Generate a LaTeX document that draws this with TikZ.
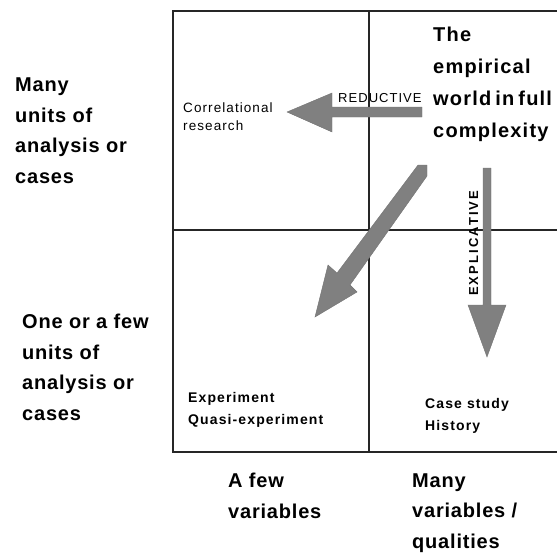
\documentclass[tikz,border=0pt]{standalone}
\usepackage{fontspec}
\setmainfont{Liberation Sans}
\newfontfamily\bigfont[LetterSpace=6,WordSpace=0.6]{Liberation Sans}
\newfontfamily\sidefont[LetterSpace=4]{Liberation Sans}
\newfontfamily\smallfont[LetterSpace=8]{Liberation Sans}
\newfontfamily\verfont[LetterSpace=16]{Liberation Sans}
\usetikzlibrary{arrows.meta}
\tikzset{
  frame/.style={draw=black!85, line width=1.4pt},
  sidelbl/.style={anchor=base west, inner sep=0pt, align=left, font=\sidefont\bfseries\fontsize{20}{30.5}\selectfont},
  worldlbl/.style={anchor=base west, inner sep=0pt, align=left, font=\bigfont\bfseries\fontsize{20}{32}\selectfont},
  celllbl/.style={anchor=base west, inner sep=0pt, align=left, font=\smallfont\fontsize{13.5}{18}\selectfont},
  cellbold/.style={anchor=base west, inner sep=0pt, align=left, font=\smallfont\bfseries\fontsize{14}{21.5}\selectfont},
  blockarrow/.style={draw=black!55, fill=black!50}
}
\begin{document}
\begin{tikzpicture}[x=1pt,y=-1pt]
\useasboundingbox (0,0) rectangle (557,554);
% frame
\draw[frame] (557,11) -- (173,11) -- (173,452) -- (557,452);
\draw[frame] (369,11) -- (369,452);
\draw[frame] (173,230) -- (557,230);
% side labels (anchored at the baseline of the last line)
\node[sidelbl] (many) at (15,183) {Many\\units of\\analysis or\\cases};
\node[sidelbl] (few) at (22,420) {One or a few\\units of\\analysis or\\cases};
\node[sidelbl] (afew) at (228,518) {A few\\variables};
\node[sidelbl] (manyvar) at (412,548) {Many\\variables /\\qualities};
% world
\node[worldlbl] (world) at (433,137) {The\\empirical\\world in full\\complexity};
% cells
\node[celllbl] (corr) at (183,130) {Correlational\\research};
\node[cellbold] (exp) at (188,424) {Experiment\\Quasi-experiment};
\node[cellbold] (case) at (425,430) {Case study\\History};
% arrows
\coordinate (rt) at (287,112);
\coordinate (vs) at (487,168);
\coordinate (vt) at (487,357);
\coordinate (dt) at (315,317);
\path[blockarrow] (422,107) -- (332,107) -- (332,93) -- (rt) -- (332,132) -- (332,117) -- (422,117) -- cycle;
\path[blockarrow] (vs) ++(-4,0) -- ++(0,137) -- (468,305) -- (vt) -- (506,305) -- (491,305) -- (491,168) -- cycle;
\path[blockarrow] (418,165) -- (427,165) -- (427,176) -- (350,285) -- (357,292) -- (dt) -- (328,265) -- (337,273) -- cycle;
% arrow labels
\node[anchor=base west, inner sep=0pt, font=\smallfont\fontsize{13}{13}\selectfont] (red) at (338,102) {REDUCTIVE};
\node[anchor=base west, inner sep=0pt, rotate=90, font=\verfont\bfseries\fontsize{13}{13}\selectfont] (expl) at (478,296) {EXPLICATIVE};
\end{tikzpicture}
\end{document}
